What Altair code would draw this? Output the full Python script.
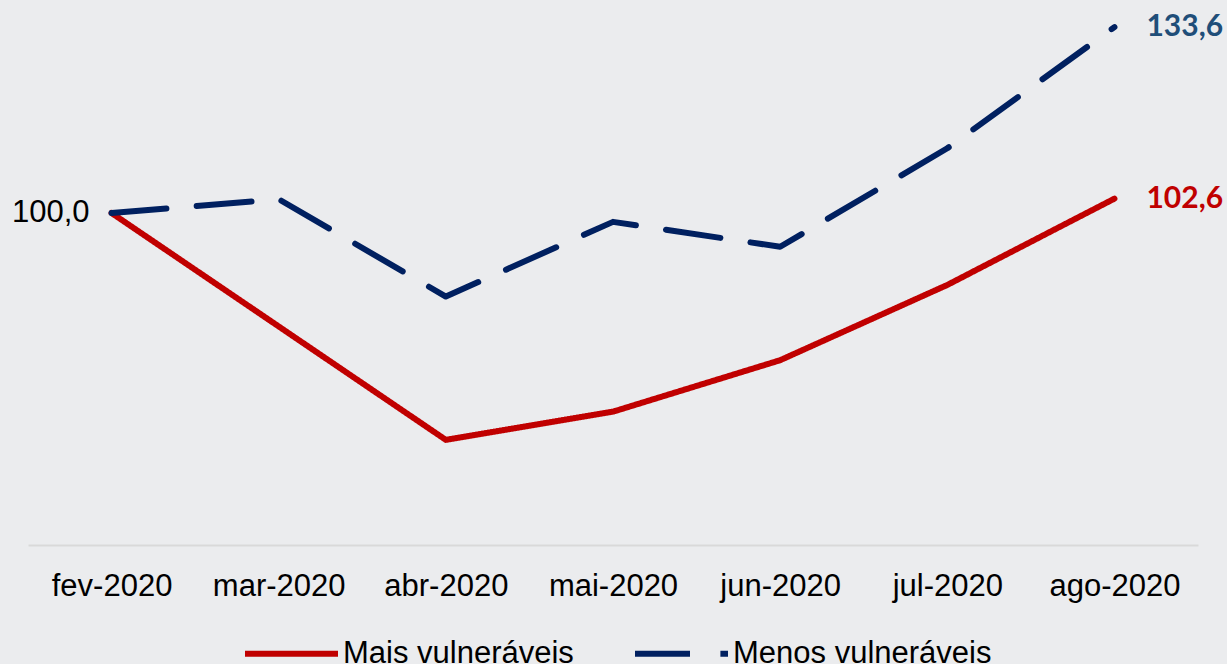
import altair as alt
import pandas as pd

meses = ["fev-2020", "mar-2020", "abr-2020", "mai-2020", "jun-2020", "jul-2020", "ago-2020"]
mais_vulneraveis = [100.0, 79.5, 59.0, 64.1, 73.4, 87.0, 102.6]
menos_vulneraveis = [100.0, 102.5, 84.9, 98.4, 93.9, 111.7, 133.6]
series = ["Mais vulneráveis", "Menos vulneráveis"]
cores = ["#C00000", "#002060"]
cores_rotulo = ["#C00000", "#1F4E79"]

rows = []
for s, vals in zip(series, [mais_vulneraveis, menos_vulneraveis]):
    for m, v in zip(meses, vals):
        rows.append({"mes": m, "serie": s, "valor": v,
                     "rotulo": f"{v:.1f}".replace(".", ",")})
df = pd.DataFrame(rows)

x = alt.X("mes:N", sort=meses,
          scale=alt.Scale(type="point", padding=0.5),
          axis=alt.Axis(title=None, labelAngle=0, ticks=False, grid=False,
                        labelFontSize=31, labelFont="Liberation Sans",
                        labelColor="#000000", domainColor="#d9d9d9",
                        domainWidth=2, labelPadding=26))
y = alt.Y("valor:Q", scale=alt.Scale(domain=[40, 138.5], nice=False, zero=False),
          axis=None)

leg = dict(title=None, orient="none", legendX=214, legendY=604,
           direction="horizontal", symbolType="stroke", symbolSize=8649,
           symbolStrokeWidth=6, labelFontSize=31, labelFont="Liberation Sans",
           labelColor="#000000", labelOffset=2, columnPadding=49,
           labelLimit=400, padding=0)

base = alt.Chart(df)

lines = base.mark_line(strokeWidth=6, strokeCap="round", strokeJoin="round").encode(
    x=x, y=y,
    color=alt.Color("serie:N", sort=series,
                    scale=alt.Scale(domain=series, range=cores),
                    legend=alt.Legend(**leg)),
    strokeDash=alt.StrokeDash("serie:N", sort=series,
                              scale=alt.Scale(domain=series, range=[[1, 0], [55, 30.4]]),
                              legend=alt.Legend(**leg)),
    order=alt.Order("serie:N"),
)

lab_menos = base.transform_filter(
    (alt.datum.serie == series[1]) & (alt.datum.mes == meses[-1])
).mark_text(align="left", dx=32, font="Lato", fontWeight="bold", fontSize=30,
            color=cores_rotulo[1]).encode(x=x, y=y, text="rotulo:N")

lab_mais = base.transform_filter(
    (alt.datum.serie == series[0]) & (alt.datum.mes == meses[-1])
).mark_text(align="left", dx=32, font="Lato", fontWeight="bold", fontSize=30,
            color=cores_rotulo[0]).encode(x=x, y=y, text="rotulo:N")

lab_ini = base.transform_filter(
    (alt.datum.serie == series[0]) & (alt.datum.mes == meses[0])
).mark_text(align="right", dx=-22, font="Liberation Sans", fontSize=31,
            color="#000000").encode(x=x, y=y, text="rotulo:N")

chart = alt.layer(lines, lab_menos, lab_mais, lab_ini).properties(
    width=1170, height=545,
    autosize=alt.AutoSizeParams(type="none"),
    padding={"left": 28, "top": 0, "right": 29, "bottom": 119},
    background="#ebecee",
).configure_view(stroke=None)

chart.save("out.html", embed_options={"renderer": "svg", "actions": False})
